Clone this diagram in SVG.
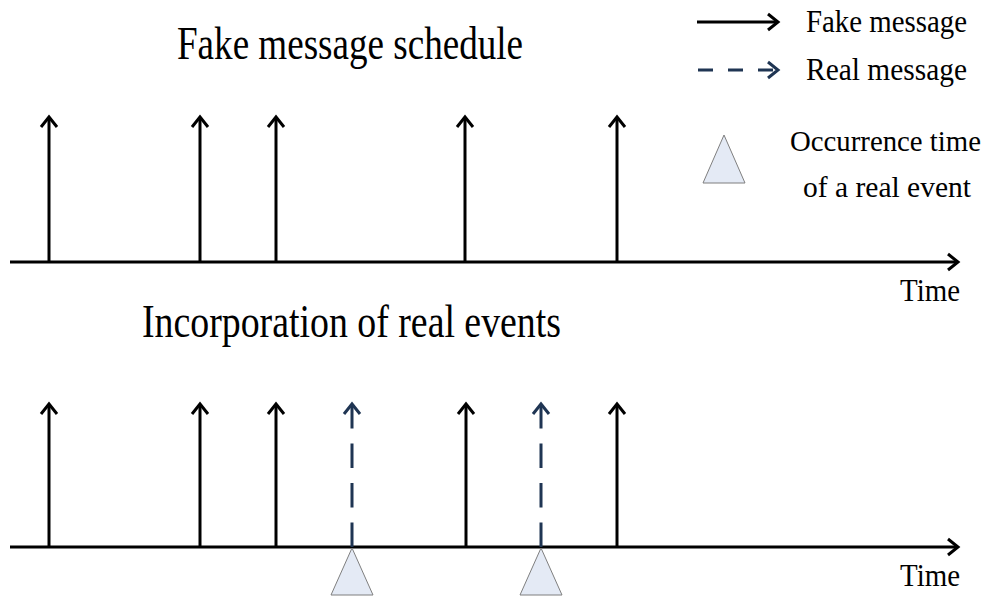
<svg xmlns="http://www.w3.org/2000/svg" width="988" height="597" viewBox="0 0 988 597">
  <style>
    .txt { font-family: "Liberation Serif", "Times New Roman", serif; fill: #000; }
    .title { font-size: 46px; }
    .label { font-size: 31px; }
    .note { font-size: 29px; }
    .fake { stroke: #000; stroke-width: 3; fill: none; marker-end: url(#head); }
    .real { stroke: #1f3553; stroke-width: 3; fill: none; stroke-dasharray: 24.5 15; marker-end: url(#headReal); }
    .axis { stroke: #000; stroke-width: 3; fill: none; marker-end: url(#head); }
    .event { fill: #e4eaf5; stroke: #7f7f7f; stroke-width: 1; }
  </style>
  <defs>
    <marker id="head" markerUnits="userSpaceOnUse" markerWidth="24" markerHeight="24" viewBox="-12 -12 24 24" refX="0" refY="0" orient="auto" overflow="visible">
      <path d="M-10,-8 L0,0 L-10,8" fill="none" stroke="#000" stroke-width="3" stroke-linejoin="miter"/>
    </marker>
    <marker id="headReal" markerUnits="userSpaceOnUse" markerWidth="24" markerHeight="24" viewBox="-12 -12 24 24" refX="0" refY="0" orient="auto" overflow="visible">
      <path d="M-10,-8 L0,0 L-10,8" fill="none" stroke="#1f3553" stroke-width="3" stroke-linejoin="miter"/>
    </marker>
  </defs>

  <!-- Headings -->
  <text class="txt title" x="177" y="59" textLength="346" lengthAdjust="spacingAndGlyphs">Fake message schedule</text>
  <text class="txt title" x="142" y="337" textLength="419" lengthAdjust="spacingAndGlyphs">Incorporation of real events</text>

  <!-- Legend -->
  <g id="legend">
    <g id="legend-fake">
      <line class="fake" x1="697" y1="22" x2="778" y2="22"/>
      <text class="txt label" x="806" y="32" textLength="161" lengthAdjust="spacingAndGlyphs">Fake message</text>
    </g>
    <g id="legend-real">
      <line class="real" x1="698" y1="70" x2="778" y2="70" style="stroke-dasharray: 15 15"/>
      <text class="txt label" x="806" y="80" textLength="161" lengthAdjust="spacingAndGlyphs">Real message</text>
    </g>
    <g id="legend-event">
      <polygon class="event" points="724,135 745,183 703,183"/>
      <text class="txt note" x="790" y="151" textLength="191" lengthAdjust="spacingAndGlyphs">Occurrence time</text>
      <text class="txt note" x="803" y="197" textLength="168" lengthAdjust="spacingAndGlyphs">of a real event</text>
    </g>
  </g>

  <!-- Upper timeline: fake messages only -->
  <g id="timeline-fake">
    <g id="axis-1">
      <line class="axis" x1="10" y1="262" x2="958" y2="262"/>
      <text class="txt label" x="900" y="301" textLength="60" lengthAdjust="spacingAndGlyphs">Time</text>
    </g>
    <g id="connectors-1">
      <line class="fake" x1="49" y1="262" x2="49" y2="117"/>
      <line class="fake" x1="200" y1="262" x2="200" y2="117"/>
      <line class="fake" x1="276" y1="262" x2="276" y2="117"/>
      <line class="fake" x1="465" y1="262" x2="465" y2="117"/>
      <line class="fake" x1="617" y1="262" x2="617" y2="117"/>
    </g>
  </g>

  <!-- Lower timeline: fake messages with real events inserted -->
  <g id="timeline-mixed">
    <g id="axis-2">
      <line class="axis" x1="10" y1="547" x2="958" y2="547"/>
      <text class="txt label" x="900" y="586" textLength="60" lengthAdjust="spacingAndGlyphs">Time</text>
    </g>
    <g id="connectors-2">
      <line class="fake" x1="49" y1="547" x2="49" y2="404"/>
      <line class="fake" x1="200" y1="547" x2="200" y2="404"/>
      <line class="fake" x1="276" y1="547" x2="276" y2="404"/>
      <line class="real" x1="352" y1="547" x2="352" y2="404"/>
      <line class="fake" x1="466" y1="547" x2="466" y2="404"/>
      <line class="real" x1="541" y1="547" x2="541" y2="404"/>
      <line class="fake" x1="617" y1="547" x2="617" y2="404"/>
    </g>
    <g id="event-1">
      <polygon class="event" points="352,548 373,595 331,595"/>
    </g>
    <g id="event-2">
      <polygon class="event" points="541,548 562,595 520,595"/>
    </g>
  </g>
</svg>
